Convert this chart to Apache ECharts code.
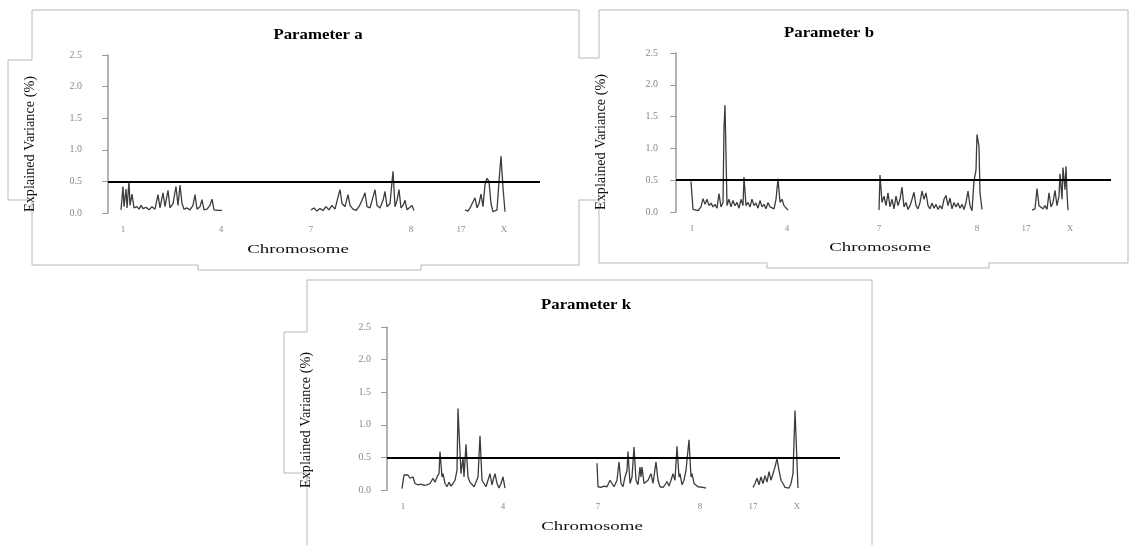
<!DOCTYPE html>
<html>
<head>
<meta charset="utf-8">
<script src="https://cdn.jsdelivr.net/npm/echarts@6/dist/echarts.min.js"></script>
<style>
html,body{margin:0;padding:0;background:#fff;}
#chart{width:1137px;height:545px;}
</style>
</head>
<body>
<div id="chart"></div>
<script>
// ---- data (x = relative genome position along each panel axis, y = explained variance %) ----
const chromLabels = ['1', '4', '7', '8', '17', 'X'];
const yTicks = [0, 0.5, 1.0, 1.5, 2.0, 2.5];
const threshold = 0.5;

const chromPosA = [15, 113, 203, 303, 353, 396];
const chromPosB = [16, 111, 203, 301, 350, 394];
const chromPosK = [16, 116, 211, 313, 366, 410];

const seriesA = [
  [13,0.05],[15,0.42],[16,0.10],[18,0.38],[19,0.08],[21,0.50],[22,0.12],[24,0.30],[26,0.08],[29,0.10],
  [31,0.06],[33,0.12],[35,0.07],[38,0.09],[41,0.05],[44,0.10],[47,0.06],[50,0.29],[52,0.08],[55,0.32],
  [57,0.10],[60,0.36],[62,0.08],[65,0.15],[68,0.42],[70,0.12],[72,0.44],[74,0.15],[76,0.06],[79,0.08],
  [82,0.05],[85,0.12],[87,0.29],[89,0.06],[92,0.10],[94,0.21],[96,0.05],[99,0.06],[102,0.12],[104,0.22],
  [106,0.05],[110,0.04],[114,0.04],[150,null],
  [203,0.05],[206,0.08],[209,0.03],[212,0.07],[215,0.04],[218,0.10],[221,0.05],[224,0.12],[227,0.06],
  [230,0.25],[232,0.37],[234,0.15],[237,0.10],[240,0.29],[242,0.12],[245,0.06],[248,0.04],[251,0.10],
  [254,0.20],[257,0.32],[259,0.10],[262,0.08],[265,0.25],[267,0.37],[269,0.12],[272,0.08],[275,0.20],
  [277,0.34],[279,0.10],[282,0.15],[285,0.66],[287,0.10],[289,0.20],[291,0.37],[293,0.08],[295,0.12],
  [297,0.20],[299,0.05],[301,0.08],[304,0.12],[306,0.04],[330,null],
  [357,0.05],[360,0.03],[362,0.08],[364,0.05],[367,0.24],[369,0.08],[371,0.15],[373,0.30],[375,0.10],
  [377,0.45],[379,0.55],[381,0.50],[383,0.15],[385,0.02],[387,0.02],[389,0.05],[391,0.50],[393,0.90],
  [394,0.88],[395,0.40],[397,0.02]
];

const seriesB = [
  [15,0.48],[17,0.04],[19,0.03],[22,0.02],[25,0.08],[27,0.21],[29,0.12],[31,0.20],[33,0.10],[35,0.14],
  [37,0.08],[39,0.12],[41,0.06],[43,0.29],[45,0.08],[47,0.15],[48,1.33],[49,1.68],[50,0.90],[51,0.10],
  [53,0.20],[55,0.08],[57,0.18],[59,0.10],[61,0.15],[63,0.06],[65,0.20],[67,0.10],[68,0.55],[70,0.10],
  [72,0.15],[74,0.08],[76,0.20],[78,0.10],[80,0.14],[82,0.06],[84,0.18],[86,0.08],[88,0.12],[90,0.05],
  [92,0.15],[94,0.08],[96,0.10],[98,0.05],[100,0.20],[102,0.52],[104,0.15],[106,0.20],[108,0.10],
  [110,0.12],[112,0.03],[150,null],
  [203,0.03],[204,0.58],[206,0.15],[208,0.25],[210,0.10],[212,0.30],[214,0.08],[216,0.20],[218,0.05],
  [220,0.25],[222,0.10],[224,0.20],[226,0.39],[228,0.08],[230,0.15],[232,0.04],[234,0.10],[236,0.20],
  [238,0.31],[240,0.10],[242,0.05],[244,0.15],[246,0.33],[248,0.20],[250,0.30],[252,0.10],[254,0.05],
  [256,0.14],[258,0.06],[260,0.12],[262,0.04],[264,0.10],[266,0.05],[268,0.20],[270,0.26],[272,0.10],
  [274,0.22],[276,0.05],[278,0.15],[280,0.08],[282,0.14],[284,0.06],[286,0.12],[288,0.04],[290,0.15],
  [292,0.33],[294,0.10],[296,0.02],[298,0.49],[300,0.66],[301,1.22],[303,1.03],[304,0.30],[306,0.04],
  [330,null],
  [356,0.03],[359,0.05],[361,0.37],[363,0.10],[365,0.12],[367,0.05],[369,0.10],[371,0.04],[373,0.30],
  [375,0.08],[377,0.15],[379,0.34],[381,0.10],[383,0.25],[384,0.60],[386,0.20],[387,0.70],[389,0.35],
  [390,0.72],[391,0.30],[392,0.03]
];

const seriesK = [
  [15,0.02],[17,0.23],[19,0.20],[21,0.23],[23,0.18],[25,0.15],[26,0.20],[28,0.10],[31,0.08],[34,0.09],
  [37,0.07],[40,0.08],[43,0.10],[46,0.18],[48,0.12],[50,0.20],[52,0.25],[53,0.59],[55,0.20],[56,0.25],
  [58,0.10],[60,0.05],[62,0.12],[64,0.06],[66,0.10],[68,0.15],[70,0.30],[71,1.25],[72,0.90],[74,0.25],
  [76,0.50],[77,0.20],[79,0.70],[81,0.20],[83,0.12],[85,0.15],[87,0.05],[89,0.12],[91,0.20],[93,0.83],
  [95,0.15],[97,0.10],[99,0.05],[101,0.15],[103,0.25],[105,0.08],[107,0.20],[108,0.25],[110,0.10],
  [112,0.03],[114,0.10],[116,0.20],[118,0.03],[150,null],
  [210,0.41],[211,0.05],[214,0.04],[217,0.06],[220,0.05],[223,0.15],[225,0.10],[227,0.05],[230,0.15],
  [232,0.43],[234,0.10],[236,0.05],[238,0.20],[240,0.30],[241,0.59],[243,0.10],[245,0.20],[247,0.66],
  [249,0.15],[251,0.08],[253,0.35],[254,0.20],[255,0.35],[257,0.10],[259,0.08],[261,0.15],[264,0.25],
  [266,0.10],[269,0.43],[271,0.15],[273,0.05],[276,0.04],[278,0.08],[280,0.13],[282,0.06],[284,0.15],
  [286,0.25],[288,0.15],[290,0.67],[292,0.20],[293,0.25],[295,0.08],[297,0.15],[299,0.30],[302,0.77],
  [304,0.20],[305,0.25],[307,0.10],[309,0.12],[311,0.05],[313,0.08],[316,0.04],[319,0.03],[340,null],
  [366,0.04],[368,0.10],[370,0.18],[372,0.08],[374,0.20],[376,0.10],[378,0.22],[380,0.12],[382,0.28],
  [384,0.15],[386,0.25],[388,0.35],[390,0.48],[392,0.30],[394,0.15],[396,0.10],[398,0.04],[400,0.02],
  [402,0.03],[404,0.10],[406,0.25],[408,1.22],[410,1.19],[411,0.03]
];

const titles = ['Parameter a', 'Parameter b', 'Parameter k'];
const xName = 'Chromosome';
const yName = 'Explained Variance (%)';

// ---- layout ----
const panels = [
  {grid:{left:108, top:55, width:432, height:158}, pos:chromPosA, data:seriesA, lblMargin:26,
   title:[318,35], xname:[298,250], yname:[30,144]},
  {grid:{left:676, top:53, width:435, height:159}, pos:chromPosB, data:seriesB, lblMargin:18,
   title:[829,33], xname:[880,248], yname:[601,142]},
  {grid:{left:387, top:327, width:453, height:163}, pos:chromPosK, data:seriesK, lblMargin:16,
   title:[586,305], xname:[592,527], yname:[306,420]}
];

const serif = '"Liberation Serif", "DejaVu Serif", serif';
const chart = echarts.init(document.getElementById('chart'), null, {renderer:'canvas'});

const grids = [], xAxes = [], yAxes = [], series = [], graphics = [];
panels.forEach((p, i) => {
  grids.push(Object.assign({containLabel:false}, p.grid));
  xAxes.push({
    type:'value', gridIndex:i, min:0, max:p.grid.width,
    axisLine:{show:false}, axisTick:{show:false}, splitLine:{show:false},
    axisLabel:{
      customValues:p.pos, margin:12, fontSize:9, color:'#888', fontFamily:serif,
      formatter:(v) => { const k = p.pos.indexOf(v); return k >= 0 ? chromLabels[k] : ''; }
    }
  });
  yAxes.push({
    type:'value', gridIndex:i, min:yTicks[0], max:yTicks[yTicks.length-1], interval:0.5,
    axisLine:{show:true, lineStyle:{color:'#9a9a9a', width:1.5}},
    axisTick:{show:true, length:6, lineStyle:{color:'#9a9a9a'}},
    splitLine:{show:false},
    axisLabel:{margin:p.lblMargin, fontSize:10, color:'#888', fontFamily:serif,
      formatter:(v) => v.toFixed(1)}
  });
  series.push({
    type:'line', xAxisIndex:i, yAxisIndex:i, data:p.data, showSymbol:false, symbol:'none',
    connectNulls:false, animation:false,
    lineStyle:{color:'#3c3c3c', width:1.3},
    markLine:{silent:true, symbol:'none', animation:false, label:{show:false},
      lineStyle:{color:'#000', width:2, type:'solid'}, data:[{yAxis:threshold}]}
  });
  graphics.push({type:'text', x:p.title[0], y:p.title[1], scaleX:1.2, scaleY:1,
    style:{text:titles[i], font:'bold 14px ' + serif, fill:'#000', textAlign:'center', textVerticalAlign:'middle', verticalAlign:'middle'}});
  graphics.push({type:'text', x:p.xname[0], y:p.xname[1], scaleX:1.45, scaleY:1,
    style:{text:xName, font:'13px ' + serif, fill:'#111', textAlign:'center', textVerticalAlign:'middle', verticalAlign:'middle'}});
  graphics.push({type:'text', x:p.yname[0], y:p.yname[1], rotation:Math.PI/2, scaleX:0.95, scaleY:1,
    style:{text:yName, font:'15px ' + serif, fill:'#111', textAlign:'center', textVerticalAlign:'middle', verticalAlign:'middle'}});
});

// decorative frames of the scanned figure
const frameStyle = {stroke:'#b8b8b8', fill:null, lineWidth:1};
const frames = [
  [[32,60],[32,10],[579,10],[579,58],[599,58]],
  [[8,60],[32,60]],
  [[8,200],[32,200],[32,265],[198,265],[198,270],[421,270],[421,265],[579,265],[579,200],[599,200]],
  [[8,60],[8,200]],
  [[599,58],[599,10],[1128,10],[1128,263],[989,263],[989,268],[767,268],[767,263],[599,263],[599,200]],
  [[307,545],[307,473],[284,473],[284,332],[307,332],[307,280],[872,280],[872,545]]
];
frames.forEach(pts => graphics.push({type:'polyline', silent:true, z:-1, shape:{points:pts}, style:frameStyle}));

chart.setOption({
  animation:false,
  backgroundColor:'#fff',
  grid:grids, xAxis:xAxes, yAxis:yAxes, series:series,
  graphic:graphics
});
</script>
</body>
</html>
